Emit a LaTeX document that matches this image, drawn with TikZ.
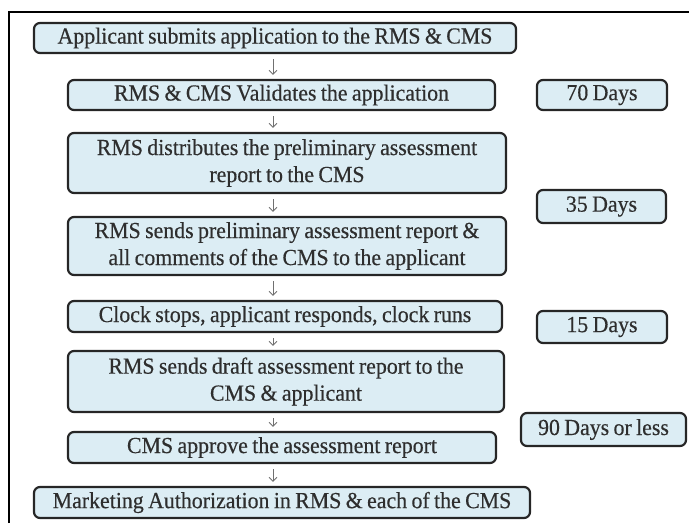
\documentclass[tikz,border=0pt]{standalone}
\usepackage{fontspec}
\setmainfont[FakeStretch=0.95,FakeBold=0.4,WordSpace=0.8]{Liberation Serif}
\usetikzlibrary{arrows.meta}
\definecolor{boxfill}{HTML}{DCEDF4}
\definecolor{boxline}{HTML}{262626}
\definecolor{txt}{HTML}{2E2E2E}
\definecolor{arrgray}{HTML}{707070}
\tikzset{
  box/.style={draw=boxline, fill=boxfill, line width=2.2pt, rounded corners=6pt,
    inner sep=0pt, align=center, text=txt,
    font=\fontsize{23}{27}\selectfont},
  arr/.style={draw=arrgray, line width=0.9pt,
    -{Straight Barb[length=4pt,width=8pt,line width=0.9pt]},
    shorten <=5pt, shorten >=4pt},
}
\begin{document}
\begin{tikzpicture}[x=1pt,y=-1pt]
\useasboundingbox (0,0) rectangle (689,523);
\draw[line width=2pt, black] (9,523) -- (9,12) -- (689,12);
\coordinate (ax) at (273,0);
\node[box, minimum width=482, minimum height=30] (b1) at (275,38) {Applicant submits application to the RMS \& CMS};
\node[box, minimum width=427, minimum height=30] (b2) at (281.5,95) {RMS \& CMS Validates the application};
\node[box, minimum width=438, minimum height=60] (b3) at (287,163) {RMS distributes the preliminary assessment\\report to the CMS};
\node[box, minimum width=438, minimum height=58] (b4) at (287,246) {RMS sends preliminary assessment report \&\\all comments of the CMS to the applicant};
\node[box, minimum width=434, minimum height=31] (b5) at (285,316.5) {Clock stops, applicant responds, clock runs};
\node[box, minimum width=436, minimum height=61] (b6) at (286,381.5) {RMS sends draft assessment report to the\\CMS \& applicant};
\node[box, minimum width=428, minimum height=31] (b7) at (282,447.5) {CMS approve the assessment report};
\node[box, minimum width=496, minimum height=31] (b8) at (282,502.5) {Marketing Authorization in RMS \& each of the CMS};
\node[box, minimum width=130, minimum height=30] (d1) at (602,95) {70 Days};
\node[box, minimum width=129, minimum height=33] (d2) at (601.5,206.5) {35 Days};
\node[box, minimum width=130, minimum height=32] (d3) at (602,327) {15 Days};
\node[box, minimum width=165, minimum height=33] (d4) at (603.5,429.5) {90 Days or less};
\draw[arr] (ax |- b1.south) -- (ax |- b2.north);
\draw[arr] (ax |- b2.south) -- (ax |- b3.north);
\draw[arr] (ax |- b3.south) -- (ax |- b4.north);
\draw[arr] (ax |- b4.south) -- (ax |- b5.north);
\draw[arr] (ax |- b5.south) -- (ax |- b6.north);
\draw[arr] (ax |- b6.south) -- (ax |- b7.north);
\draw[arr] (ax |- b7.south) -- (ax |- b8.north);
\end{tikzpicture}
\end{document}
